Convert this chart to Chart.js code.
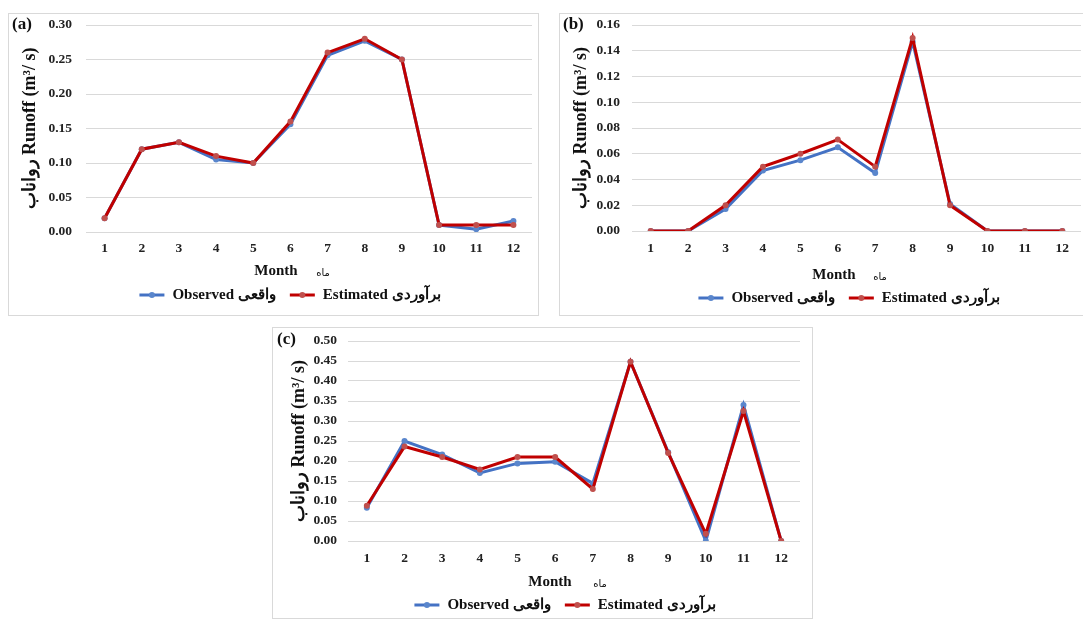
<!DOCTYPE html>
<html>
<head>
<meta charset="utf-8">
<script src="https://cdn.jsdelivr.net/npm/chart.js@4.4.1/dist/chart.umd.min.js"></script>
<style>
  body { margin: 0; background: #fff; width: 1083px; height: 621px; overflow: hidden; position: relative; }
  .panel { position: absolute; border: 1px solid #d9d9d9; box-sizing: border-box; }
  .panel canvas { position: absolute; left: 0; top: 0; }
</style>
</head>
<body>
<div class="panel" id="pa" style="left:8px;top:13px;width:531px;height:303px;"><canvas id="chartA"></canvas></div>
<div class="panel" id="pb" style="left:559px;top:13px;width:527px;height:303px;"><canvas id="chartB"></canvas></div>
<div class="panel" id="pc" style="left:272px;top:327px;width:541px;height:292px;"><canvas id="chartC"></canvas></div>
<script>
const months = ['1', '2', '3', '4', '5', '6', '7', '8', '9', '10', '11', '12'];

// (a)
const observedA = [0.02, 0.12, 0.13, 0.105, 0.10, 0.156, 0.256, 0.277, 0.25, 0.01, 0.004, 0.016];
const estimatedA = [0.02, 0.12, 0.13, 0.11, 0.10, 0.16, 0.26, 0.28, 0.25, 0.01, 0.01, 0.01];
// (b)
const observedB = [0, 0, 0.017, 0.047, 0.055, 0.065, 0.045, 0.147, 0.021, 0, 0, 0];
const estimatedB = [0, 0, 0.02, 0.05, 0.06, 0.071, 0.05, 0.15, 0.02, 0, 0, 0];
// (c)
const observedC = [0.083, 0.25, 0.216, 0.17, 0.194, 0.198, 0.144, 0.448, 0.222, 0.0, 0.34, 0];
const estimatedC = [0.088, 0.236, 0.21, 0.179, 0.21, 0.21, 0.13, 0.448, 0.22, 0.018, 0.325, 0];

const yMaxA = 0.30, yStepA = 0.05;
const yMaxB = 0.16, yStepB = 0.02;
const yMaxC = 0.50, yStepC = 0.05;

const OBS_LABEL = 'Observed واقعی';
const EST_LABEL = 'Estimated برآوردی';
const BLUE = '#4472C4', BLUE_PT = '#5A86CC';
const RED = '#C00000', RED_PT = '#C0504D';
const SERIF = '"Liberation Serif", "Times New Roman", serif';

// draws panel letter, the x title and the legend under the axis
const extras = {
  id: 'extras',
  afterDraw(chart, args, o) {
    const { ctx } = chart;
    ctx.save();
    ctx.fillStyle = '#111';
    ctx.textBaseline = 'middle';
    ctx.textAlign = 'left';
    ctx.font = 'bold 17px ' + SERIF;
    ctx.fillText(o.letter, o.letterX, o.letterY);

    ctx.textAlign = 'center';
    ctx.font = 'bold 15px ' + SERIF;
    ctx.fillText('Month', o.monthX, o.monthY);
    ctx.font = '10px "DejaVu Sans", sans-serif';
    ctx.fillText('ماه', o.mahX, o.monthY + 2);

    // legend
    ctx.font = 'bold 15px ' + SERIF;
    const lineLen = 25, gapText = 8, gapItem = 14;
    const ds = chart.data.datasets;
    const items = [ds[0], ds[1]];
    let total = 0;
    items.forEach((d, i) => {
      total += lineLen + gapText + ctx.measureText(d.label).width + (i ? 0 : gapItem);
    });
    let x = o.legendX - total / 2;
    items.forEach(d => {
      ctx.strokeStyle = d.borderColor;
      ctx.lineWidth = 3;
      ctx.beginPath();
      ctx.moveTo(x, o.legendY);
      ctx.lineTo(x + lineLen, o.legendY);
      ctx.stroke();
      ctx.fillStyle = d.pointBackgroundColor;
      ctx.beginPath();
      ctx.arc(x + lineLen / 2, o.legendY, 3, 0, Math.PI * 2);
      ctx.fill();
      x += lineLen + gapText;
      ctx.fillStyle = '#111';
      ctx.textAlign = 'left';
      ctx.fillText(d.label, x, o.legendY);
      x += ctx.measureText(d.label).width + gapItem;
    });
    ctx.restore();
  }
};

function makeChart(id, obs, est, yMax, yStep, g) {
  return new Chart(document.getElementById(id), {
    type: 'line',
    data: {
      labels: months,
      datasets: [
        {
          label: OBS_LABEL, data: obs, order: 1,
          borderColor: BLUE, backgroundColor: BLUE, pointBackgroundColor: BLUE_PT, pointBorderColor: BLUE_PT,
          borderWidth: 3, pointRadius: 3, pointBorderWidth: 0, tension: 0
        },
        {
          label: EST_LABEL, data: est, order: 0,
          borderColor: RED, backgroundColor: RED, pointBackgroundColor: RED_PT, pointBorderColor: RED_PT,
          borderWidth: 3, pointRadius: 3, pointBorderWidth: 0, tension: 0
        }
      ]
    },
    options: {
      responsive: false,
      animation: false,
      layout: { padding: { left: 0, right: g.padRight, top: g.padTop, bottom: 0 } },
      scales: {
        x: {
          offset: true,
          grid: { display: false, drawTicks: false },
          border: { display: false },
          ticks: { color: '#222', padding: g.xTickPad, font: { family: SERIF, size: 13.5, weight: 'bold' }, maxRotation: 0 },
          afterFit(scale) { scale.height = g.xHeight; }
        },
        y: {
          min: 0, max: yMax,
          grid: { color: '#d9d9d9', lineWidth: 1, drawTicks: false },
          border: { display: false },
          ticks: {
            stepSize: yStep, color: '#222', padding: g.yTickPad,
            font: { family: SERIF, size: 13.5, weight: 'bold' },
            callback: v => v.toFixed(2)
          },
          title: {
            display: true, text: 'رواناب Runoff (m³/ s)', color: '#111',
            font: { family: SERIF, size: 18, weight: 'bold' },
            padding: { top: g.yTitlePad, bottom: 0 }
          },
          afterFit(scale) {
            scale.width = g.yWidth;
            scale.paddingTop = 8;
            scale.paddingBottom = 8;
          }
        }
      },
      plugins: {
        legend: { display: false },
        tooltip: { enabled: false },
        extras: g.extras
      }
    },
    plugins: [extras]
  });
}

function sizeCanvas(id, w, h) {
  const c = document.getElementById(id);
  c.width = w; c.height = h;
  c.style.width = w + 'px'; c.style.height = h + 'px';
}

sizeCanvas('chartA', 529, 301);
sizeCanvas('chartB', 525, 301);
sizeCanvas('chartC', 539, 290);

makeChart('chartA', observedA, estimatedA, yMaxA, yStepA, {
  padRight: 6, padTop: 11, xHeight: 83, yWidth: 77, yTickPad: 14, xTickPad: 8, yTitlePad: 11,
  extras: { letter: '(a)', letterX: 3, letterY: 11, monthX: 267, mahX: 314, monthY: 257, legendX: 281, legendY: 281 }
});
makeChart('chartB', observedB, estimatedB, yMaxB, yStepB, {
  padRight: 2, padTop: 11, xHeight: 84, yWidth: 72, yTickPad: 12, xTickPad: 9, yTitlePad: 11,
  extras: { letter: '(b)', letterX: 3, letterY: 11, monthX: 274, mahX: 320, monthY: 261, legendX: 289, legendY: 284 }
});
makeChart('chartC', observedC, estimatedC, yMaxC, yStepC, {
  padRight: 12, padTop: 13, xHeight: 77, yWidth: 75, yTickPad: 11, xTickPad: 9, yTitlePad: 16,
  extras: { letter: '(c)', letterX: 4, letterY: 12, monthX: 277, mahX: 327, monthY: 254, legendX: 292, legendY: 277 }
});
</script>
</body>
</html>
